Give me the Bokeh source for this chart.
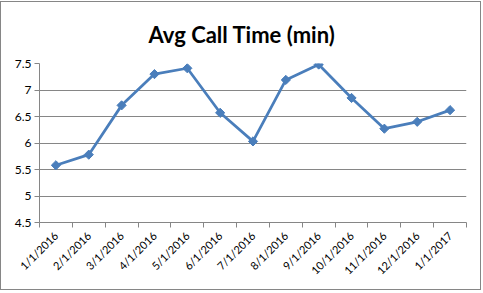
import math
from bokeh.plotting import figure
from bokeh.models import Range1d, FixedTicker, NumeralTickFormatter, ColumnDataSource
from bokeh.embed import file_html
from bokeh.resources import INLINE

categories = ["1/1/2016", "2/1/2016", "3/1/2016", "4/1/2016", "5/1/2016", "6/1/2016",
              "7/1/2016", "8/1/2016", "9/1/2016", "10/1/2016", "11/1/2016", "12/1/2016", "1/1/2017"]
avg_call_time = [5.58, 5.78, 6.71, 7.30, 7.41, 6.57, 6.03, 7.19, 7.48, 6.85, 6.27, 6.40, 6.62]
y_ticks = [4.5, 5, 5.5, 6, 6.5, 7, 7.5]
title_text = "Avg Call Time (min)"

n = len(categories)
centers = [i + 0.5 for i in range(n)]
bounds = list(range(n + 1))

GRAY = "#868686"
BLUE = "#4A7EBB"
FONT = "Lato"

p = figure(width=481, height=289, output_backend="svg", toolbar_location=None,
           x_range=Range1d(0, n), y_range=Range1d(4.5, 7.5),
           min_border_left=38, min_border_right=16, min_border_top=57, min_border_bottom=69,
           background_fill_color="white", border_fill_color="white", outline_line_color=None,
           title=title_text)
p.styles = {"border": "1px solid #868686", "margin-top": "1px"}

p.title.align = "left"
p.title.offset = 109
p.title.text_font = FONT
p.title.text_font_size = "22px"
p.title.text_font_style = "bold"
p.title.text_color = "black"
p.title.text_line_height = 0.8
p.title.standoff = 32

src = ColumnDataSource(dict(x=centers, y=avg_call_time, label=categories))
p.line("x", "y", source=src, line_color=BLUE, line_width=2.75, line_join="round")
p.scatter("x", "y", source=src, marker="square", angle=math.pi / 4, size=6.5,
          fill_color=BLUE, line_color=BLUE)

# x axis
xa = p.xaxis[0]
xa.ticker = FixedTicker(ticks=centers, minor_ticks=bounds)
xa.major_label_overrides = {c: lab for c, lab in zip(centers, categories)}
xa.major_tick_out = 0
xa.major_tick_in = 0
xa.minor_tick_out = 5
xa.minor_tick_in = 0
xa.minor_tick_line_color = GRAY
xa.axis_line_color = GRAY
xa.major_label_orientation = math.pi / 4
xa.major_label_text_font = FONT
xa.major_label_text_font_size = "11px"
xa.major_label_text_color = "black"
xa.major_label_standoff = 6

# y axis
ya = p.yaxis[0]
ya.ticker = FixedTicker(ticks=y_ticks)
ya.formatter = NumeralTickFormatter(format="0.[0]")
ya.major_tick_out = 5
ya.major_tick_in = 0
ya.minor_tick_line_color = None
ya.major_tick_line_color = GRAY
ya.axis_line_color = GRAY
ya.major_label_text_font = FONT
ya.major_label_text_font_size = "12px"
ya.major_label_text_color = "black"
ya.major_label_standoff = 3

p.xgrid.grid_line_color = None
p.ygrid.grid_line_color = GRAY
p.ygrid.grid_line_width = 1

open("out.html", "w").write(file_html(p, INLINE))
